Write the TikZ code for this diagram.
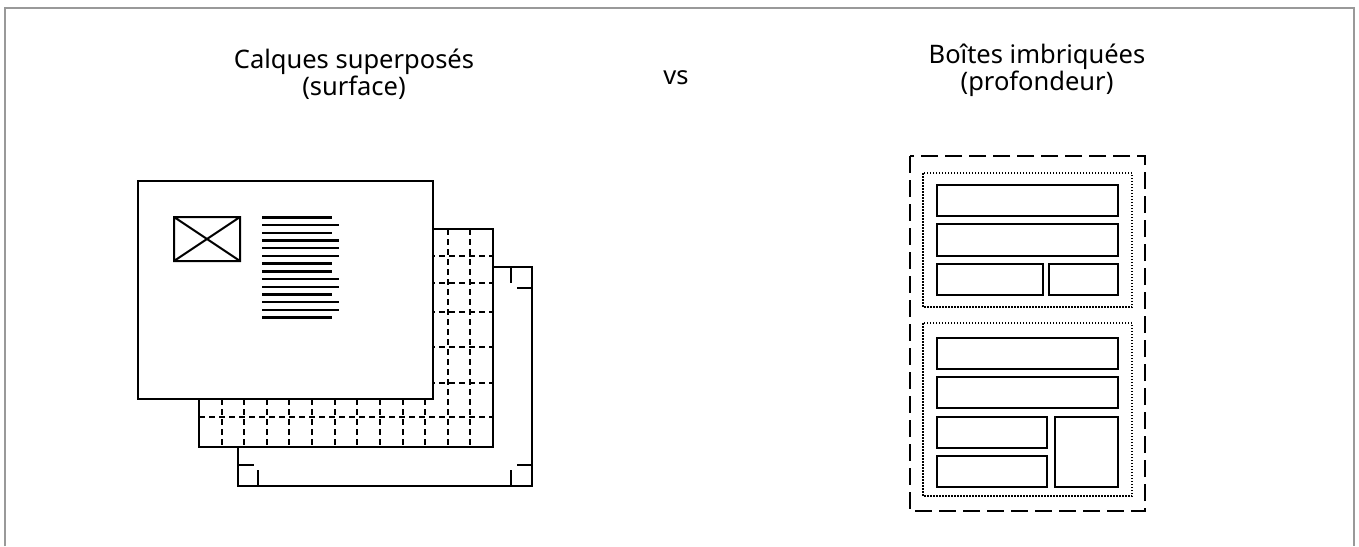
\documentclass[tikz,border=0pt]{standalone}
\usepackage{fontspec}
\setmainfont{Noto Sans}
\begin{document}
\begin{tikzpicture}[x=1pt,y=-1pt,
  frame/.style={draw=black!40,line width=2pt},
  layer/.style={draw=black,fill=white,line width=2.4pt},
  cropmark/.style={draw=black,line width=2.4pt},
  gridline/.style={draw=black,line width=2pt,dash pattern=on 6pt off 4pt},
  thinbox/.style={draw=black,line width=2pt},
  textline/.style={draw=black,line width=2.4pt},
  block/.style={draw=black,line width=2.4pt},
  outerbox/.style={draw=black,line width=2.6pt,dash pattern=on 17pt off 7pt},
  groupbox/.style={draw=black,line width=1.8pt,dash pattern=on 1.5pt off 1.5pt},
  title/.style={font=\fontsize{25.5}{27}\selectfont,anchor=base,inner sep=0pt}
]
\useasboundingbox (0,0) rectangle (1359,546);
\draw[frame] (5,546) -- (5,7.7) -- (1353.7,7.7) -- (1353.7,546);

% back layer with crop marks
\draw[layer] (238,267) rectangle (532,486);
\draw[cropmark] (511,267) -- (511,283) (517,288) -- (532,288)
  (238,465) -- (254,465) (258,470) -- (258,486)
  (511,470) -- (511,486) (517,465) -- (532,465)
  (258,267) -- (258,283) (238,288) -- (254,288);

% grid layer
\draw[layer] (199,229) rectangle (493,447);
\foreach \k in {1,...,12} \draw[gridline] ({199+22.615*\k},229) -- ({199+22.615*\k},447);
\foreach \yy in {256,283,312,347,383,417} \draw[gridline] (199,\yy) -- (493,\yy);
\draw[layer,fill=none] (199,229) rectangle (493,447);

% front layer
\draw[layer] (138,181) rectangle (433,399);
\draw[thinbox] (174,217) rectangle (240,261) (174,217) -- (240,261) (174,261) -- (240,217);
\foreach \i/\xe in {0/332,1/339,2/332,3/339,4/339,5/339,6/332,7/332,8/339,9/339,10/332,11/339,12/339,13/332}
  \draw[textline] (262,{217.3+7.72*\i}) -- (\xe,{217.3+7.72*\i});

% nested boxes
\draw[outerbox] (910,156) rectangle (1145,511);
\draw[groupbox] (923,173) rectangle (1132,307);
\draw[groupbox] (923,323) rectangle (1132,496);
\draw[block] (937,185) rectangle (1118,216);
\draw[block] (937,224) rectangle (1118,256);
\draw[block] (937,264) rectangle (1043,295);
\draw[block] (1049,264) rectangle (1118,295);
\draw[block] (937,338) rectangle (1118,369);
\draw[block] (937,377) rectangle (1118,408);
\draw[block] (937,417) rectangle (1047,448);
\draw[block] (937,456) rectangle (1047,487);
\draw[block] (1055,417) rectangle (1118,487);

% titles
\node[title] (t1a) at (354,68) {Calques superposés};
\node[title] (t1b) at (354,95) {(surface)};
\node[title] (vs) at (676,84) {vs};
\node[title] (t2a) at (1037,63) {Boîtes imbriquées};
\node[title] (t2b) at (1037,90) {(profondeur)};
\end{tikzpicture}
\end{document}
